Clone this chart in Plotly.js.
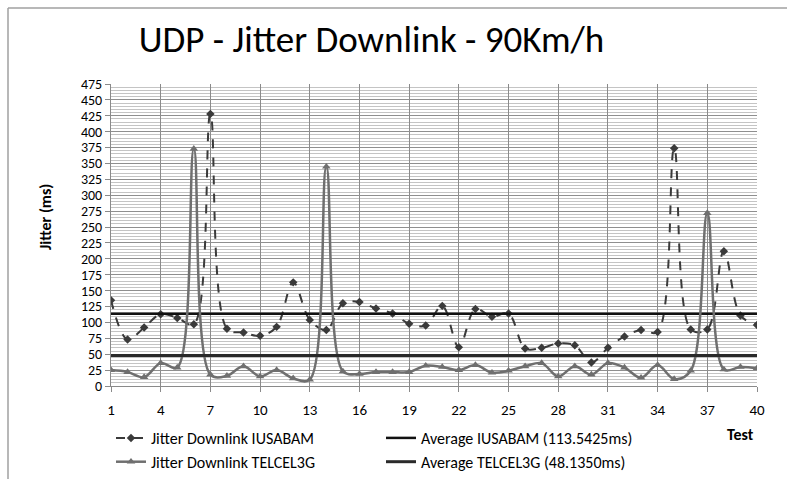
<!DOCTYPE html>
<html><head><meta charset="utf-8">
<script src="https://cdn.plot.ly/plotly-3.0.1.min.js"></script>
<style>html,body{margin:0;padding:0;background:#fff}#chart{width:787px;height:479px}</style>
</head><body><div id="chart"></div>
<script>
// ---- data ----
const tests = [1,2,3,4,5,6,7,8,9,10,11,12,13,14,15,16,17,18,19,20,21,22,23,24,25,26,27,28,29,30,31,32,33,34,35,36,37,38,39,40];
const jitterIUSABAM = [135,73,92,113,107,97,428,90,84,79,93,163,104,88,130,132,122,114,98,95,126,61,121,109,114,59,60,67,64,37,60,78,88,85,374,89,89,212,111,96];
const jitterTELCEL3G = [25,22,14,36,29,373,18,16,31,15,25,12,10,345,23,19,22,22,22,32,30,25,33,21,24,31,36,15,31,18,36,29,13,33,11,24,272,26,30,28];
const avgIUSABAM = 113.5425;
const avgTELCEL3G = 48.1350;
const seriesNames = ['Jitter Downlink IUSABAM','Average IUSABAM (113.5425ms)','Jitter Downlink TELCEL3G','Average TELCEL3G (48.1350ms)'];
const xTickVals = [1,4,7,10,13,16,19,22,25,28,31,34,37,40];
const yTickVals = [0,25,50,75,100,125,150,175,200,225,250,275,300,325,350,375,400,425,450,475];
const titleText = 'UDP - Jitter Downlink - 90Km/h';
const xTitle = 'Test';
const yTitle = 'Jitter (ms)';

// ---- layout constants ----
const W = 787, H = 479;
const M = {l:111, r:30, t:84, b:93, autoexpand: false};
const PW = W - M.l - M.r, PH = H - M.t - M.b;
const px2x = p => (p - M.l) / PW;
const py2y = p => (M.t + PH - p) / PH;
const FONT = 'Carlito, Lato, sans-serif';

const xFirst = tests[0], xLast = tests[tests.length - 1];

const traces = [
  {x: tests, y: jitterIUSABAM, name: seriesNames[0], type: 'scatter', mode: 'lines+markers',
   line: {color: '#3a3a3a', width: 2, dash: 'dash', shape: 'spline', smoothing: 1},
   marker: {symbol: 'diamond', size: 6.5, color: '#3a3a3a'}},
  {x: [xFirst, xLast], y: [avgIUSABAM, avgIUSABAM], name: seriesNames[1], type: 'scatter', mode: 'lines',
   line: {color: '#111111', width: 2.5}},
  {x: tests, y: jitterTELCEL3G, name: seriesNames[2], type: 'scatter', mode: 'lines+markers',
   line: {color: '#6f6f6f', width: 2.5, shape: 'spline', smoothing: 1},
   marker: {symbol: 'triangle-up', size: 7.5, color: '#6f6f6f'}},
  {x: [xFirst, xLast], y: [avgTELCEL3G, avgTELCEL3G], name: seriesNames[3], type: 'scatter', mode: 'lines',
   line: {color: '#2a2a2a', width: 3}}
];

const layout = {
  width: W, height: H,
  margin: M,
  paper_bgcolor: '#fff', plot_bgcolor: '#fff',
  font: {family: FONT, size: 15, color: '#000'},
  showlegend: true,
  title: {text: titleText, font: {family: FONT, size: 37, color: '#000'}, x: 371.5 / W, xanchor: 'center', y: 0.918, yanchor: 'middle'},
  xaxis: {
    range: [xFirst, xLast], tickmode: 'array', tickvals: xTickVals, ticktext: xTickVals.map(String),
    showgrid: true, gridcolor: '#8a8a8a', gridwidth: 1,
    showline: true, linecolor: '#8a8a8a', linewidth: 1,
    ticks: 'outside', ticklen: 5, tickcolor: '#8a8a8a', ticklabelstandoff: 5,
    tickfont: {family: FONT, size: 15, color: '#000'},
    zeroline: false, fixedrange: true
  },
  yaxis: {
    range: [0, 475], tickmode: 'array', tickvals: yTickVals, ticktext: yTickVals.map(String),
    showgrid: true, gridcolor: '#8f8f8f', gridwidth: 1,
    minor: {dtick: 5, showgrid: true, gridcolor: '#c4c4c4', gridwidth: 1},
    showline: true, linecolor: '#8a8a8a', linewidth: 1,
    ticks: 'outside', ticklen: 5, tickcolor: '#8a8a8a',
    tickfont: {family: FONT, size: 14, color: '#000'},
    zeroline: false, fixedrange: true
  },
  legend: {
    orientation: 'h', x: px2x(111), xanchor: 'left', y: py2y(421), yanchor: 'top',
    entrywidth: 225, entrywidthmode: 'pixels',
    font: {family: FONT, size: 16, color: '#000'}, bgcolor: 'rgba(0,0,0,0)', traceorder: 'normal'
  },
  annotations: [
    {text: '<b>' + xTitle + '</b>', xref: 'paper', yref: 'paper', x: px2x(740), y: py2y(434),
     xanchor: 'center', yanchor: 'middle', showarrow: false, font: {family: FONT, size: 16, color: '#000'}},
    {text: '<b>' + yTitle + '</b>', xref: 'paper', yref: 'paper', x: px2x(45), y: py2y(217),
     xanchor: 'center', yanchor: 'middle', textangle: -90, showarrow: false, font: {family: FONT, size: 16, color: '#000'}}
  ],
  shapes: [
    {type: 'line', xref: 'paper', yref: 'paper', x0: px2x(8), x1: px2x(8), y0: py2y(8), y1: py2y(H), line: {color: '#a0a0a0', width: 1.5}},
    {type: 'line', xref: 'paper', yref: 'paper', x0: px2x(8), x1: px2x(W), y0: py2y(8), y1: py2y(8), line: {color: '#a0a0a0', width: 1.5}}
  ]
};

Plotly.newPlot('chart', traces, layout, {displayModeBar: false, staticPlot: true});
</script>
</body></html>
